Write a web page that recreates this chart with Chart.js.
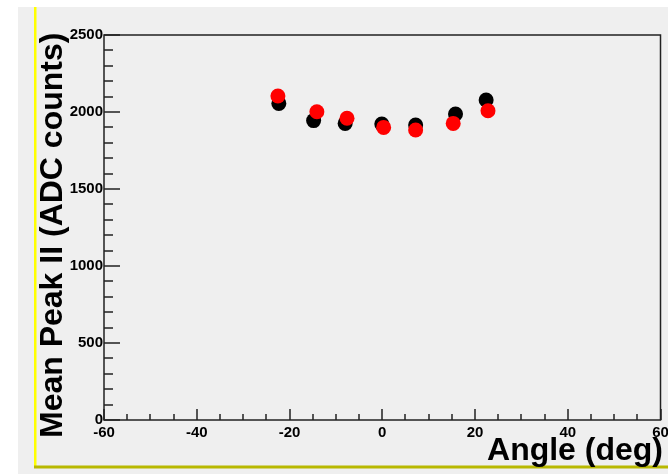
<!DOCTYPE html>
<html>
<head>
<meta charset="utf-8">
<script src="https://cdn.jsdelivr.net/npm/chart.js@4"></script>
<style>
  body{margin:0;background:#fff}
  canvas{display:block}
</style>
</head>
<body>
<canvas id="peak" width="668" height="474"></canvas>
<script>
var blackAngle=[-22.3,-14.8,-8.0,-0.1,7.2,15.8,22.4]
var blackPeak=[2056,1944,1926,1922,1916,1987,2078]
var redAngle=[-22.5,-14.1,-7.6,0.3,7.2,15.3,22.8]
var redPeak=[2104,2002,1959,1900,1883,1926,2008]
var xTicks=[-60,-40,-20,0,20,40,60]
var yTicks=[0,500,1000,1500,2000,2500]

function toPoints(xs,ys){
  let pts=[]
  for(let i=0;i<xs.length;i++){
    pts.push({x:xs[i],y:ys[i]})
  }
  return pts
}

const rootFrame={
  id:'rootFrame',
  beforeDraw(chart){
    const ctx=chart.ctx
    ctx.save()
    ctx.fillStyle='#ffffff'
    ctx.fillRect(0,0,chart.width,chart.height)
    ctx.fillStyle='#efefef'
    ctx.fillRect(18,7,chart.width-18,chart.height-7)
    ctx.fillStyle='#ffff00'
    ctx.fillRect(34,7,2.5,461)
    ctx.fillStyle='#b8b800'
    ctx.fillRect(34,465.5,chart.width-34,3)
    ctx.restore()
  },
  beforeDatasetsDraw(chart){
    const ctx=chart.ctx
    const a=chart.chartArea
    const xs=chart.scales.x
    const ys=chart.scales.y
    ctx.save()
    ctx.strokeStyle='#222'
    ctx.lineWidth=1.5
    ctx.strokeRect(a.left,a.top,a.right-a.left,a.bottom-a.top)
    ctx.beginPath()
    for(let v=ys.min;v<=ys.max;v+=100){
      let py=Math.round(ys.getPixelForValue(v))
      let len=(v%500===0)?16:9
      ctx.moveTo(a.left,py)
      ctx.lineTo(a.left+len,py)
    }
    for(let v=xs.min;v<=xs.max;v+=5){
      let px=Math.round(xs.getPixelForValue(v))
      let len=(v%20===0)?11:6
      ctx.moveTo(px,a.bottom)
      ctx.lineTo(px,a.bottom-len)
    }
    ctx.stroke()
    ctx.restore()
  },
  afterDraw(chart){
    const ctx=chart.ctx
    ctx.save()
    ctx.fillStyle='#000'
    ctx.font='bold 32px "Liberation Sans", Arial, sans-serif'
    ctx.textBaseline='alphabetic'
    ctx.textAlign='right'
    ctx.fillText('Angle (deg)',663,460)
    ctx.translate(62,438)
    ctx.rotate(-Math.PI/2)
    ctx.textAlign='left'
    ctx.fillText('Mean Peak II (ADC counts)',0,0)
    ctx.restore()
  }
}

const tickFont={family:'"Liberation Sans", Arial, sans-serif',size:15,weight:'bold'}

const peakConfig={
  type:'scatter',
  data:{
    datasets:[{
      label:'red',
      data:toPoints(redAngle,redPeak),
      backgroundColor:'#ff0000',
      borderWidth:0,
      pointRadius:7.5,
      order:0
    },{
      label:'black',
      data:toPoints(blackAngle,blackPeak),
      backgroundColor:'#000000',
      borderWidth:0,
      pointRadius:7.5,
      order:1
    }]
  },
  options:{
    responsive:false,
    animation:false,
    devicePixelRatio:1,
    layout:{padding:{top:35,right:6,left:0,bottom:0}},
    plugins:{legend:{display:false},tooltip:{enabled:false}},
    scales:{
      x:{
        type:'linear',
        min:xTicks[0],
        max:xTicks[xTicks.length-1],
        grid:{display:false,drawTicks:false},
        border:{display:false},
        ticks:{
          stepSize:20,
          padding:4,
          color:'#000',
          font:tickFont,
          maxRotation:0,
          autoSkip:false,
          callback:(v)=>String(v)
        },
        afterFit(scale){
          scale.height=54
          scale.paddingLeft=0
          scale.paddingRight=0
        }
      },
      y:{
        type:'linear',
        min:yTicks[0],
        max:yTicks[yTicks.length-1],
        grid:{display:false,drawTicks:false},
        border:{display:false},
        ticks:{
          stepSize:500,
          padding:1,
          color:'#000',
          font:tickFont,
          callback:(v)=>String(v)
        },
        afterFit(scale){
          scale.width=104
          scale.paddingTop=0
          scale.paddingBottom=0
        }
      }
    }
  },
  plugins:[rootFrame]
}

const peakZone=document.getElementById("peak")
const graphe=new Chart(peakZone,peakConfig)
</script>
</body>
</html>
